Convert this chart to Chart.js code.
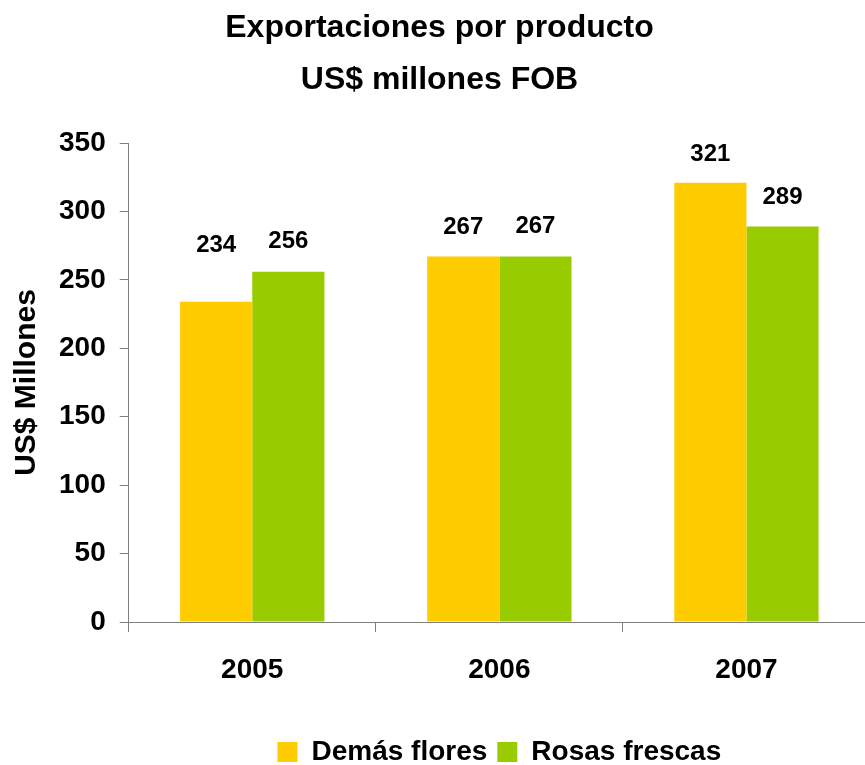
<!DOCTYPE html>
<html>
<head>
<meta charset="utf-8">
<script src="https://cdn.jsdelivr.net/npm/chart.js@4.4.1/dist/chart.umd.min.js"></script>
<style>
  html, body { margin: 0; padding: 0; background: #fff; overflow: hidden; }
  #wrap { width: 870px; height: 776px; }
</style>
</head>
<body>
<div id="wrap"><canvas id="grafico"></canvas></div>
<script>
const years = ["2005", "2006", "2007"]
const demasFlores = [234, 267, 321]
const rosasFrescas = [256, 267, 289]
const yTicks = [0, 50, 100, 150, 200, 250, 300, 350]

Chart.defaults.font.family = "'Liberation Sans', Arial, sans-serif"
Chart.defaults.font.weight = "bold"
Chart.defaults.color = "#000"

// etiquetas de valor encima de cada barra
const valueLabels = {
  id: "valueLabels",
  afterDatasetsDraw(chart, args, opts) {
    const ctx = chart.ctx
    ctx.save()
    ctx.font = "bold 24px 'Liberation Sans', Arial, sans-serif"
    ctx.fillStyle = "#000"
    ctx.textAlign = "center"
    ctx.textBaseline = "middle"
    chart.data.datasets.forEach((ds, di) => {
      const meta = chart.getDatasetMeta(di)
      meta.data.forEach((bar, i) => {
        const lift = (opts.lift[di] && opts.lift[di][i]) || 29
        ctx.fillText(ds.data[i], bar.x, bar.y - lift)
      })
    })
    ctx.restore()
  },
}

const graph = document.querySelector("#grafico")
const data = {
  labels: years,
  datasets: [
    {
      label: "Demás flores",
      data: demasFlores,
      backgroundColor: "#FFCC00",
      borderWidth: 0,
    },
    {
      label: "Rosas frescas",
      data: rosasFrescas,
      backgroundColor: "#99CC00",
      borderWidth: 0,
    },
  ],
}

const config = {
  type: "bar",
  data: data,
  plugins: [valueLabels],
  options: {
    responsive: true,
    maintainAspectRatio: false,
    animation: false,
    layout: { padding: { left: 9, right: 0, top: 0, bottom: 0 } },
    datasets: {
      bar: { categoryPercentage: 0.584, barPercentage: 1 },
    },
    plugins: {
      title: {
        display: true,
        text: ["Exportaciones por producto", "US$ millones FOB"],
        font: { size: 32, weight: "bold", lineHeight: 1.625 },
        color: "#000",
        padding: { top: 2, bottom: 37 },
      },
      legend: {
        position: "bottom",
        fullSize: false,
        labels: {
          font: { size: 28, weight: "bold" },
          color: "#000",
          boxWidth: 20,
          boxHeight: 20,
          padding: 10,
        },
      },
      tooltip: { enabled: false },
      valueLabels: {
        lift: [[56, 29, 28], [30, 30, 29]],
      },
    },
    scales: {
      x: {
        afterFit: (axis) => {
          axis.height = 106
        },
        grid: {
          display: true,
          drawOnChartArea: false,
          drawTicks: true,
          tickLength: 10,
          color: "#808080",
          offset: true,
        },
        border: { color: "#808080", width: 1 },
        ticks: { font: { size: 28, weight: "bold" }, color: "#000", padding: 21 },
      },
      y: {
        min: 0,
        max: 350,
        afterBuildTicks: (axis) => {
          axis.ticks = yTicks.map((v) => ({ value: v }))
        },
        grid: {
          display: true,
          drawOnChartArea: false,
          drawTicks: true,
          tickLength: 9,
          color: "#808080",
        },
        border: { color: "#808080", width: 1 },
        ticks: { font: { size: 28, weight: "bold" }, color: "#000", padding: 14 },
        title: {
          display: true,
          text: "US$ Millones",
          font: { size: 30, weight: "bold" },
          color: "#000",
          padding: { top: 0, bottom: 0 },
        },
      },
    },
  },
}

new Chart(graph, config)
</script>
</body>
</html>
